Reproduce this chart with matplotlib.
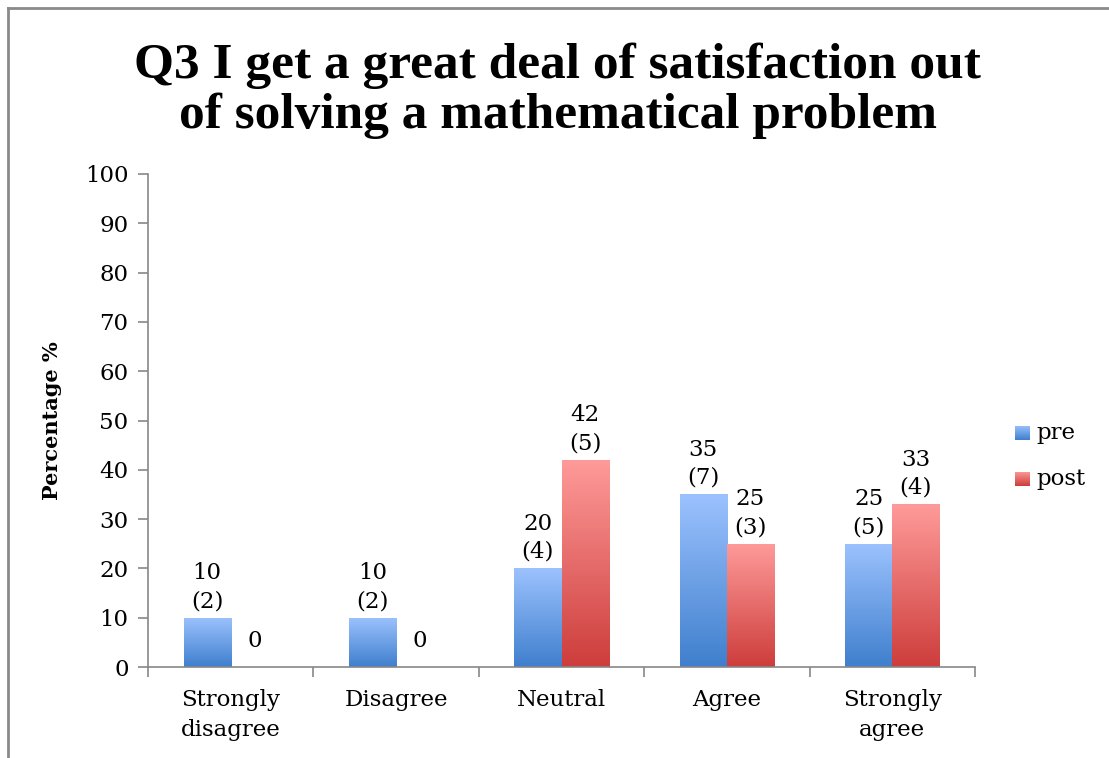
import numpy as np
import matplotlib.pyplot as plt
from matplotlib.colors import LinearSegmentedColormap
from matplotlib.lines import Line2D

plt.rcParams['font.family'] = ['DejaVu Serif']

categories = ['Strongly\ndisagree', 'Disagree', 'Neutral', 'Agree', 'Strongly\nagree']
pre_pct = [10, 10, 20, 35, 25]
pre_n = [2, 2, 4, 7, 5]
post_pct = [0, 0, 42, 25, 33]
post_n = [0, 0, 5, 3, 4]

pre_cmap = LinearSegmentedColormap.from_list('pre', ['#3f7fcd', '#9cc2fe'])
post_cmap = LinearSegmentedColormap.from_list('post', ['#cd3d3b', '#fe9b9a'])

fig = plt.figure(figsize=(11.09, 7.58), dpi=100)
ax = fig.add_axes([148/1109, 1 - 667/758, (975-148)/1109, (667-174)/758])

x = np.arange(len(categories))
w = 0.285

def gradient_bars(xs, vals, cmap):
    bars = ax.bar(xs, vals, w, color='none', edgecolor='none', zorder=2)
    grad = np.linspace(0, 1, 256).reshape(-1, 1)
    for b in bars:
        if b.get_height() <= 0:
            continue
        x0, y0 = b.get_x(), b.get_y()
        x1, y1 = x0 + b.get_width(), y0 + b.get_height()
        im = ax.imshow(grad, cmap=cmap, origin='lower', aspect='auto',
                       extent=[x0, x1, y0, y1], zorder=2)
        im.set_clip_path(b)
    return bars

pre_bars = gradient_bars(x - w/2, pre_pct, pre_cmap)
post_bars = gradient_bars(x + w/2, post_pct, post_cmap)

for xs, vals, ns in [(x - w/2, pre_pct, pre_n), (x + w/2, post_pct, post_n)]:
    for xi, v, n in zip(xs, vals, ns):
        if v > 0:
            ax.annotate(f'{v}\n({n})', (xi, v), xytext=(0, 4), textcoords='offset points',
                        ha='center', va='bottom', fontsize=16.5, linespacing=1.35)
        else:
            ax.annotate('0', (xi, v), xytext=(0, 11), textcoords='offset points',
                        ha='center', va='bottom', fontsize=16.5)

ax.set_ylim(0, 100)
ax.set_yticks(range(0, 101, 10))
ax.set_xticks(x)
ax.set_xticklabels(categories, fontsize=16.5, linespacing=1.45)
ax.set_xticks(np.arange(-0.5, len(categories)), minor=True)
ax.tick_params(axis='x', which='major', length=0, pad=16)
ax.tick_params(axis='x', which='minor', length=7, color='#888888', width=1.2)
ax.tick_params(axis='y', labelsize=16.5, length=7, color='#888888', width=1.2, pad=7)
ax.set_xlim(-0.5, len(categories) - 0.5)
for s in ['top', 'right']:
    ax.spines[s].set_visible(False)
for s in ['left', 'bottom']:
    ax.spines[s].set_color('#888888')
    ax.spines[s].set_linewidth(1.2)

ax.set_ylabel('Percentage %', fontsize=15, fontweight='bold')
ax.yaxis.set_label_coords(-0.104, 0.5)

fig.text(0.503, 1 - 91/758, 'Q3 I get a great deal of satisfaction out\nof solving a mathematical problem',
         ha='center', va='center', fontsize=37, fontweight='bold', linespacing=1.1,
         family=['Liberation Serif'])

# legend with gradient swatches
for label, cmap, ypix in [('pre', pre_cmap, 433), ('post', post_cmap, 479)]:
    yc = 1 - ypix/758
    sx0, sx1 = 1015/1109, 1030/1109
    sh = 15/758
    lax = fig.add_axes([sx0, yc - sh/2, sx1 - sx0, sh])
    lax.imshow(np.linspace(0, 1, 64).reshape(-1, 1), cmap=cmap, origin='lower', aspect='auto')
    lax.axis('off')
    fig.text(1036/1109, yc, label, ha='left', va='center', fontsize=16.5)

# frame lines
fig.add_artist(Line2D([8/1109, 8/1109], [0, 1 - 8/758], color='#8a8a8a', lw=2, transform=fig.transFigure))
fig.add_artist(Line2D([8/1109, 1], [1 - 8/758, 1 - 8/758], color='#8a8a8a', lw=2, transform=fig.transFigure))

fig.savefig('out.png', dpi=100)
